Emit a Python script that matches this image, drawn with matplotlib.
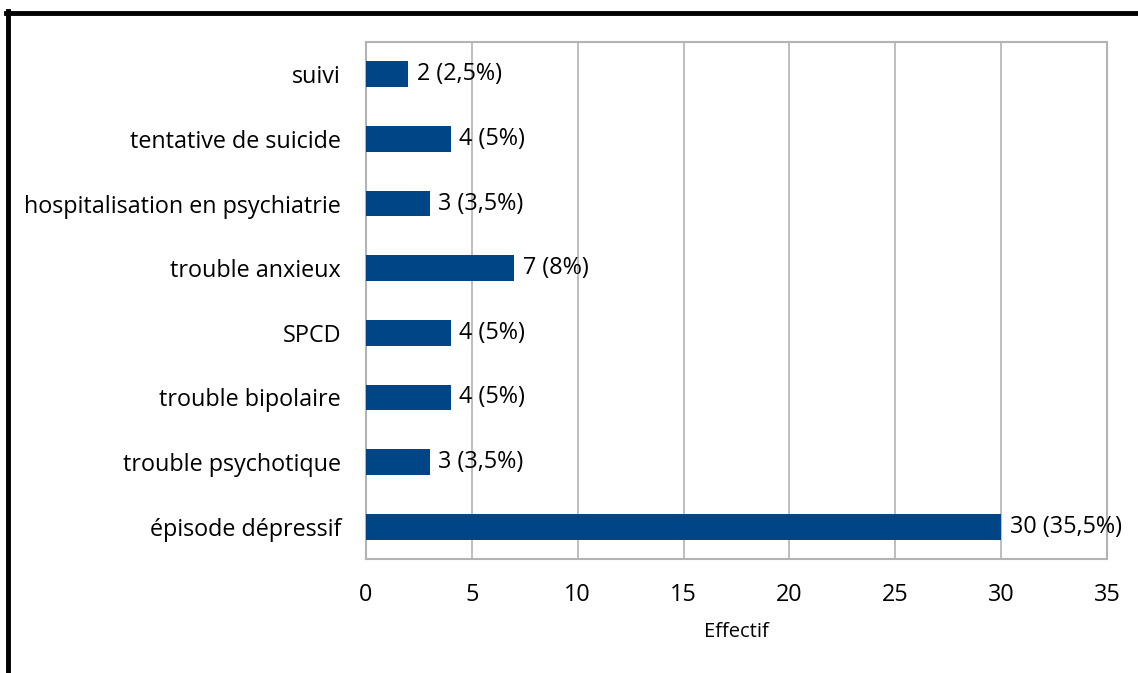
import matplotlib
matplotlib.use("Agg")
import matplotlib.pyplot as plt
from matplotlib.lines import Line2D

plt.rcParams['font.family'] = ['Open Sans', 'DejaVu Sans']

categories = ["épisode dépressif", "trouble psychotique", "trouble bipolaire", "SPCD",
              "trouble anxieux", "hospitalisation en psychiatrie", "tentative de suicide", "suivi"]
effectifs = [30, 3, 4, 4, 7, 3, 4, 2]
labels = ["30 (35,5%)", "3 (3,5%)", "4 (5%)", "4 (5%)", "7 (8%)", "3 (3,5%)", "4 (5%)", "2 (2,5%)"]
xticks = [0, 5, 10, 15, 20, 25, 30, 35]

fig = plt.figure(figsize=(11.38, 6.73), dpi=100)
ax = fig.add_axes([366 / 1138, 1 - 559 / 673, (1107 - 366) / 1138, (559 - 42) / 673])

pos = range(len(categories))
ax.barh(pos, effectifs, height=0.4, color="#004586", zorder=3)
for i, (v, lab) in enumerate(zip(effectifs, labels)):
    ax.text(v + 0.4, i, lab, va="center", ha="left", fontsize=16.8, color="black", zorder=4)

ax.set_xlim(0, 35)
ax.set_ylim(-0.5, len(categories) - 0.5)
ax.set_xticks(xticks)
ax.set_yticks(list(pos))
ax.set_yticklabels(categories)
ax.tick_params(axis="both", length=0, labelsize=16.8, colors="black")
ax.tick_params(axis="x", pad=17)
ax.tick_params(axis="y", pad=18)
ax.grid(axis="x", color="#b3b3b3", linewidth=1.2, zorder=0)
for s in ax.spines.values():
    s.set_color("#b3b3b3")
    s.set_linewidth(1.5)
ax.set_xlabel("Effectif", fontsize=14.5, labelpad=11)

# black frame around the chart
fig.add_artist(Line2D([7.5 / 1138, 7.5 / 1138], [0, 1 - 11 / 673], color="black", lw=3.5,
                      transform=fig.transFigure))
fig.add_artist(Line2D([6 / 1138, 1], [1 - 12.5 / 673, 1 - 12.5 / 673], color="black", lw=3.5,
                      transform=fig.transFigure))

fig.savefig("out.png", dpi=100)
